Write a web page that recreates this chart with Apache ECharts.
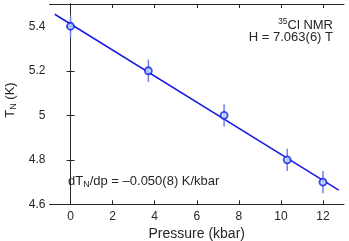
<!DOCTYPE html>
<html><head><meta charset="utf-8">
<script src="https://cdn.jsdelivr.net/npm/echarts@6/dist/echarts.min.js"></script>
<style>html,body{margin:0;padding:0;background:#fff}#c{width:349px;height:241px}</style>
</head><body><div id="c"></div>
<script>
const pressure = [0, 3.7, 7.3, 10.3, 12];
const tn = [5.4, 5.2, 5.0, 4.8, 4.7];
const tnErr = [0.05, 0.05, 0.05, 0.05, 0.05];
const fitPressure = [-0.75, 12.75];
const fitTN = [5.454, 4.664];
const xTicks = [0, 2, 4, 6, 8, 10, 12];
const yTicks = [4.6, 4.8, 5, 5.2, 5.4];

const font = 'Liberation Sans, Arial, sans-serif';
const ink = '#262626';
const chart = echarts.init(document.getElementById('c'), null, {renderer: 'canvas'});
const axisLine = {show: true, lineStyle: {color: ink, width: 1}};
const tick = {show: true, inside: true, length: 4, lineStyle: {color: ink}};
chart.setOption({
  animation: false,
  grid: {left: 49.5, top: 4, right: 5, bottom: 36.7, containLabel: false, outerBoundsMode: 'none'},
  xAxis: [
    {type: 'value', min: -1, max: 13, position: 'bottom',
     axisLine, axisTick: Object.assign({customValues: xTicks}, tick),
     axisLabel: {customValues: xTicks, color: ink, fontSize: 12, fontFamily: font, margin: 6,
       formatter: v => String(v)},
     splitLine: {show: false},
     name: 'Pressure (kbar)', nameLocation: 'middle', nameGap: 19,
     nameTextStyle: {color: ink, fontSize: 14, fontFamily: font}},
    {type: 'value', min: -1, max: 13, position: 'top',
     axisLine, axisTick: Object.assign({customValues: xTicks}, tick),
     axisLabel: {show: false}, splitLine: {show: false}}
  ],
  yAxis: [
    {type: 'value', min: 4.6, max: 5.5, position: 'left',
     axisLine, axisTick: Object.assign({customValues: yTicks}, tick),
     axisLabel: {customValues: yTicks, color: ink, fontSize: 12, fontFamily: font, margin: 4,
       formatter: v => String(Math.round(v * 10) / 10)},
     splitLine: {show: false}},
    {type: 'value', min: 4.6, max: 5.5, position: 'right',
     axisLine, axisTick: Object.assign({customValues: yTicks}, tick),
     axisLabel: {show: false}, splitLine: {show: false}}
  ],
  series: [
    {type: 'line', data: fitPressure.map((p, i) => [p, fitTN[i]]), showSymbol: false,
     lineStyle: {color: '#1a1ae6', width: 1.5}, z: 2},
    {type: 'custom', z: 3,
     data: pressure.map((p, i) => [p, tn[i], tnErr[i]]),
     renderItem: (params, api) => {
       const x = api.value(0), y = api.value(1), e = api.value(2);
       const a = api.coord([x, y - e]), b = api.coord([x, y + e]);
       return {type: 'line', shape: {x1: a[0], y1: a[1], x2: b[0], y2: b[1]},
         style: {stroke: '#7080f0', lineWidth: 1.5}};
     }},
    {type: 'scatter', z: 4, data: pressure.map((p, i) => [p, tn[i]]),
     symbol: 'circle', symbolSize: 7,
     itemStyle: {color: '#b4dcff', borderColor: '#1a1ae6', borderWidth: 1.8}}
  ],
  graphic: [
    {type: 'text', x: 10.5, y: 100, rotation: Math.PI / 2, style: {
      text: '{m|T}{s|N}{m| (K)}', align: 'center', verticalAlign: 'middle', rich: {
        m: {fontSize: 13, fontFamily: font, fill: ink},
        s: {fontSize: 9, fontFamily: font, fill: ink, verticalAlign: 'bottom', padding: [6, 0, 0, 0]}}}},
    {type: 'text', right: 16, top: 17.5, style: {
      text: '{sup|35}{t|Cl NMR}', rich: {
        sup: {fontSize: 8.5, fontFamily: font, fill: ink, verticalAlign: 'top', padding: [0, 0, 6, 0]},
        t: {fontSize: 13, fontFamily: font, fill: ink}}}},
    {type: 'text', right: 16, top: 30.5, style: {
      text: 'H = 7.063(6) T', fontSize: 13, fontFamily: font, fill: ink}},
    {type: 'text', left: 68, top: 175, style: {
      text: '{t|dT}{s|N}{t|/dp = \u20130.050(8) K/kbar}', rich: {
        t: {fontSize: 13, fontFamily: font, fill: ink},
        s: {fontSize: 9, fontFamily: font, fill: ink, verticalAlign: 'bottom', padding: [6, 0, 0, 0]}}}}
  ]
});
</script></body></html>
